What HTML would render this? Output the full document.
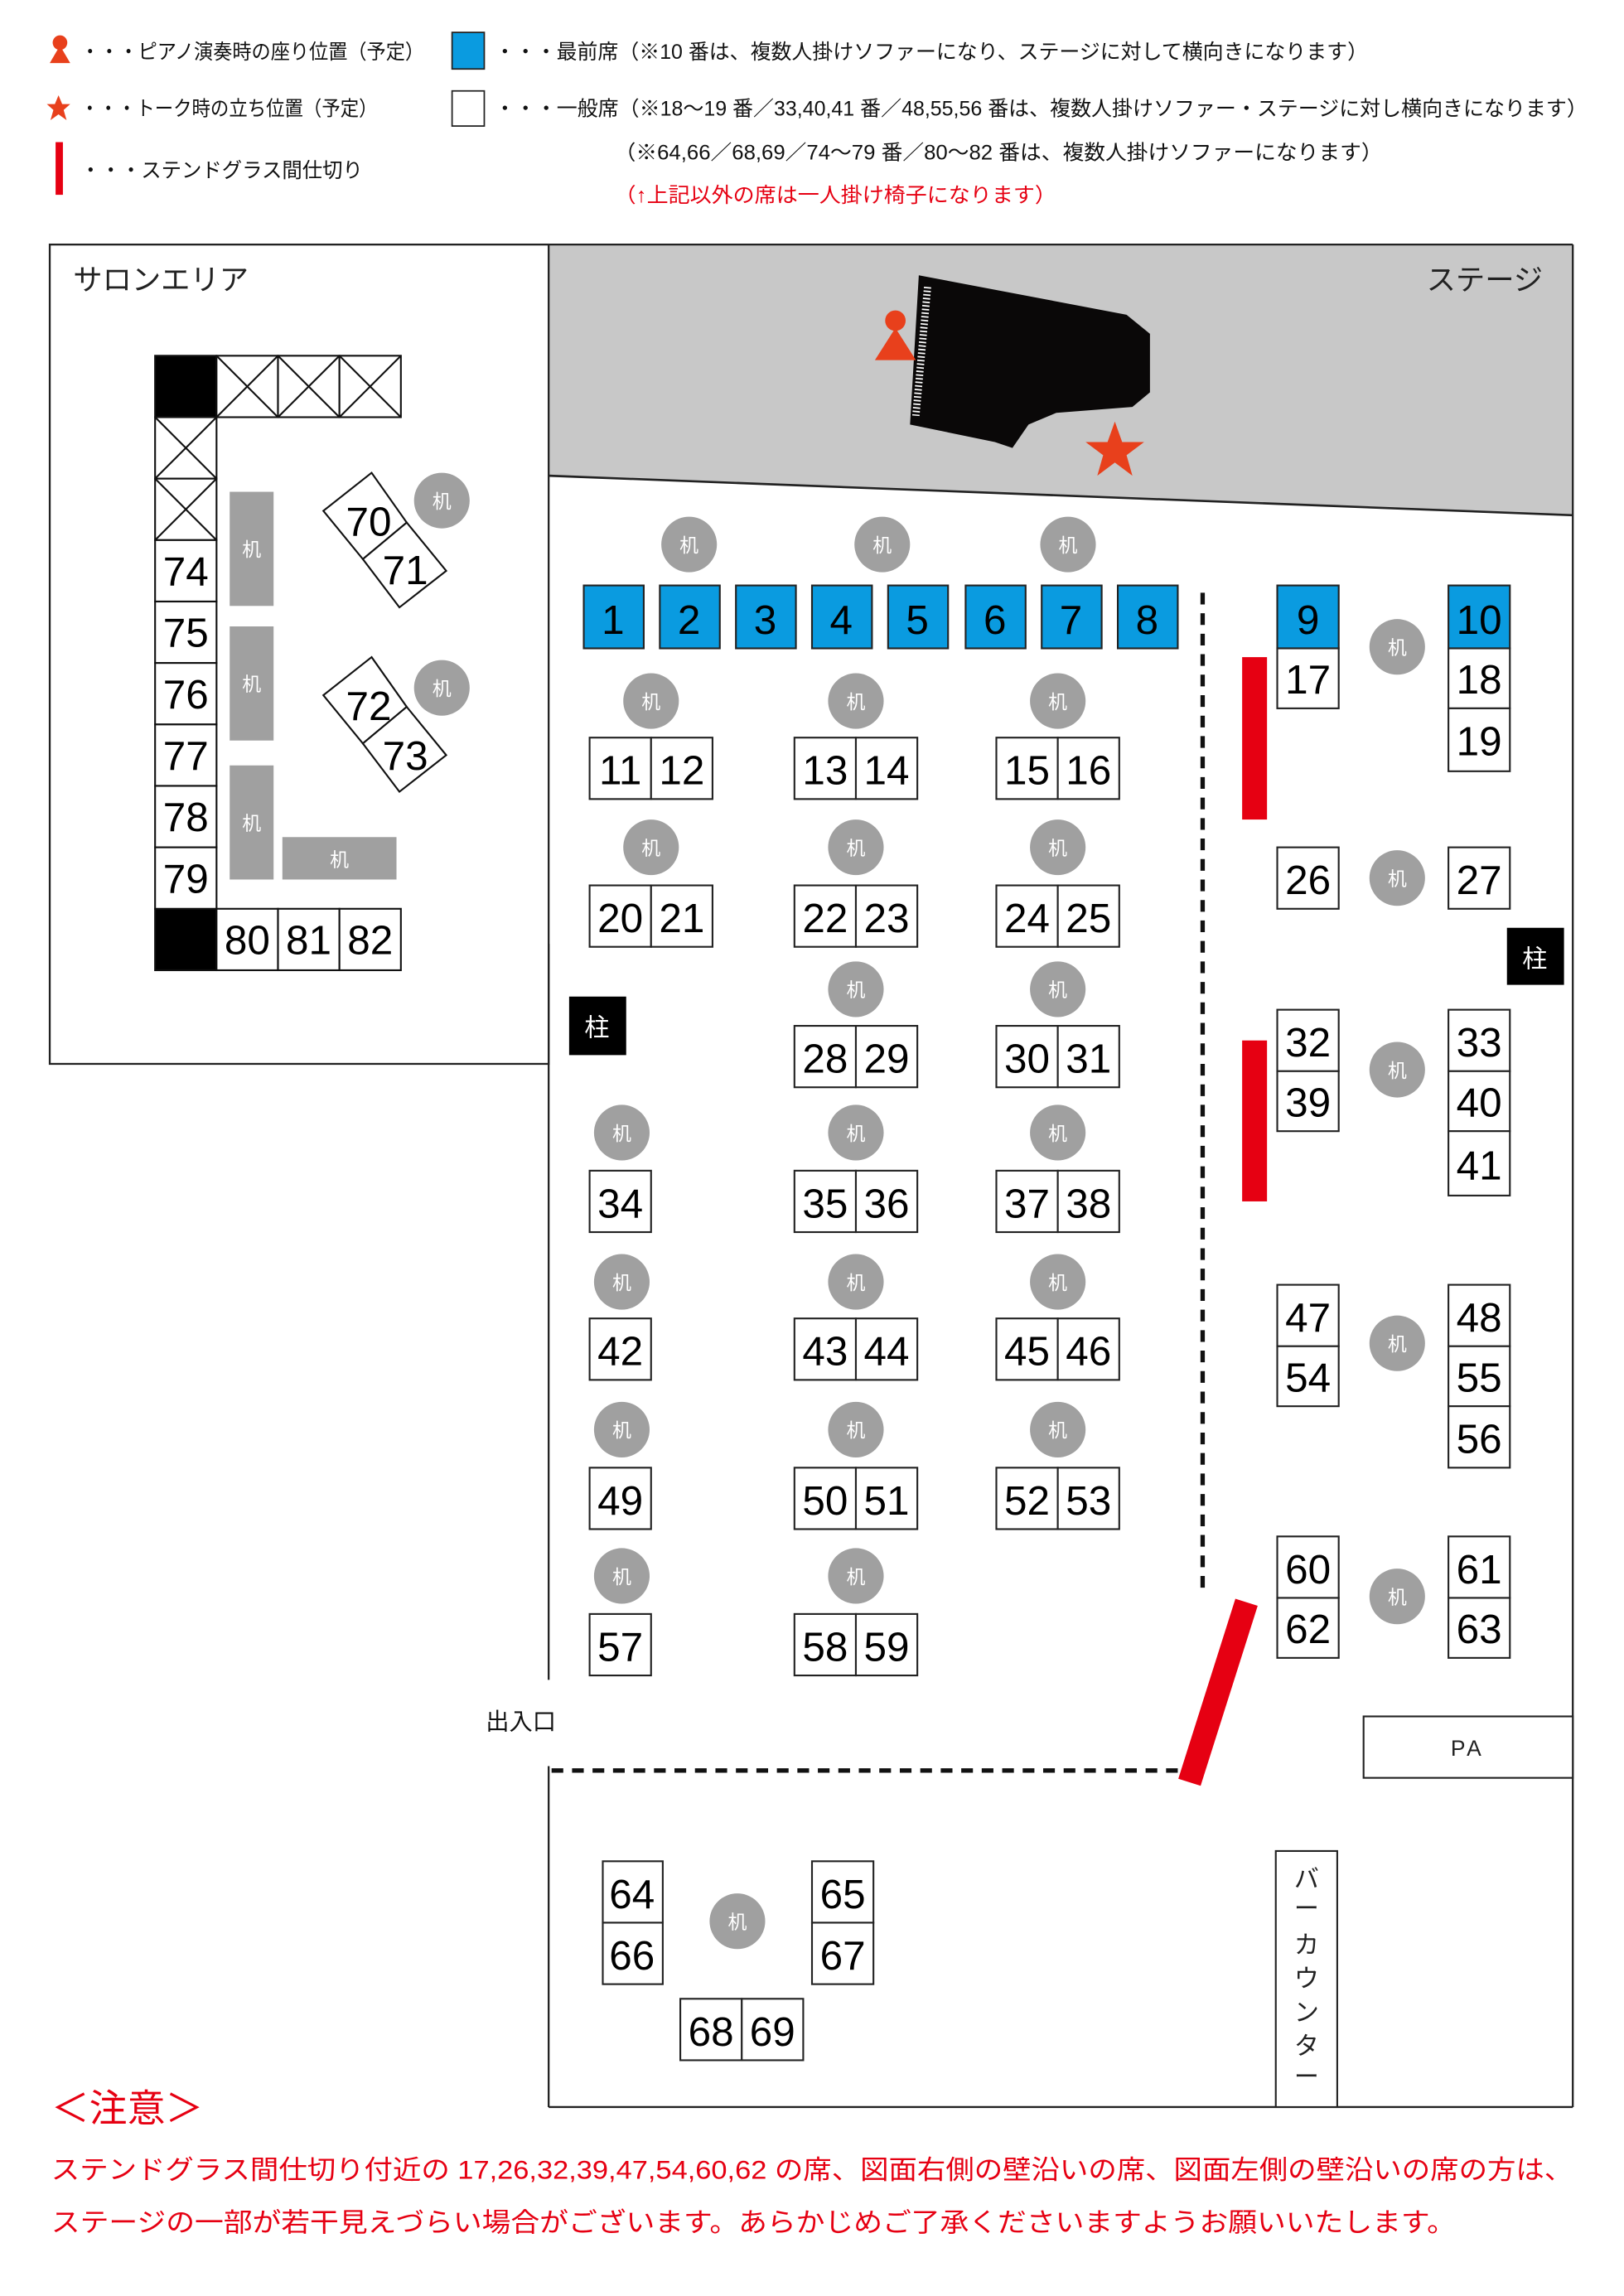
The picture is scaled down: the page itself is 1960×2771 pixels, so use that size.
<!DOCTYPE html>
<html><head><meta charset="utf-8"><style>
html,body{margin:0;padding:0;background:#fff;}
svg{display:block;}
text{font-family:"Liberation Sans","Noto Sans CJK JP",sans-serif;}
.n{font-size:28px;text-anchor:middle;fill:#000;}
.d{font-size:13px;text-anchor:middle;fill:#fff;}
.lg{font-size:14px;fill:#111;}
</style></head><body>
<svg width="1960" height="2771" viewBox="0 0 1110 1569" xmlns="http://www.w3.org/2000/svg">
<rect width="1110" height="1569" fill="#fff"/>
<!-- legend -->
<circle cx="41" cy="29" r="5" fill="#e8401c"/><polygon points="34,43 48,43 41,31" fill="#e8401c"/>
<text class="lg" x="55" y="40" textLength="235" lengthAdjust="spacingAndGlyphs">・・・ピアノ演奏時の座り位置（予定）</text>
<rect x="309" y="22" width="22" height="25" fill="#0a9be0" stroke="#222" stroke-width="1"/>
<text class="lg" x="338" y="40" textLength="597" lengthAdjust="spacingAndGlyphs">・・・最前席（※10 番は、複数人掛けソファーになり、ステージに対して横向きになります）</text>
<polygon points="40,65 42.5,71 48,71 43.5,75 45.5,82 40,78 34.5,82 36.5,75 32,71 37.5,71" fill="#e8401c"/>
<text class="lg" x="55" y="79" textLength="203" lengthAdjust="spacingAndGlyphs">・・・トーク時の立ち位置（予定）</text>
<rect x="309" y="62" width="22" height="24" fill="#fff" stroke="#222" stroke-width="1"/>
<text class="lg" x="338" y="79" textLength="747" lengthAdjust="spacingAndGlyphs">・・・一般席（※18〜19 番／33,40,41 番／48,55,56 番は、複数人掛けソファー・ステージに対し横向きになります）</text>
<rect x="38" y="97" width="5" height="36" fill="#e60012"/>
<text class="lg" x="55" y="121" textLength="193" lengthAdjust="spacingAndGlyphs">・・・ステンドグラス間仕切り</text>
<text class="lg" x="420" y="109" textLength="525" lengthAdjust="spacingAndGlyphs">（※64,66／68,69／74〜79 番／80〜82 番は、複数人掛けソファーになります）</text>
<text class="lg" x="420" y="138" textLength="302" lengthAdjust="spacingAndGlyphs" fill="#e60012" style="fill:#e60012">（↑上記以外の席は一人掛け椅子になります）</text>

<!-- structure -->
<polygon points="375,167 1075,167 1075,352 375,325" fill="#c8c8c8"/>
<line x1="375" y1="325" x2="1075" y2="352" stroke="#222" stroke-width="1.5"/>
<rect x="34" y="167" width="341" height="560" fill="none" stroke="#222" stroke-width="1.3"/>
<line x1="375" y1="167" x2="1075" y2="167" stroke="#222" stroke-width="1.3"/>
<line x1="1075" y1="167" x2="1075" y2="1440" stroke="#222" stroke-width="1.3"/>
<line x1="375" y1="1440" x2="1075" y2="1440" stroke="#222" stroke-width="1.3"/>
<line x1="375" y1="645" x2="375" y2="1148" stroke="#222" stroke-width="1.3"/>
<line x1="375" y1="1207" x2="375" y2="1440" stroke="#222" stroke-width="1.3"/>
<text x="332" y="1182" font-size="16" fill="#111">出入口</text>
<line x1="377" y1="1210" x2="805" y2="1210" stroke="#111" stroke-width="3" stroke-dasharray="8,6"/>
<line x1="822" y1="405" x2="822" y2="1090" stroke="#111" stroke-width="3" stroke-dasharray="8,6"/>
<text x="50" y="198" font-size="20" fill="#222">サロンエリア</text>
<text x="975" y="198" font-size="20" fill="#222">ステージ</text>

<!-- piano -->
<polygon points="628,188 770,215 786,228 786,268 774,278 722,282 703,290 692,306 680,302 622,290" fill="#0a0808"/>
<line x1="634" y1="196" x2="626" y2="284" stroke="#fff" stroke-width="5" stroke-dasharray="1,1.5"/>
<circle cx="612" cy="219" r="7" fill="#e8401c"/><polygon points="598,246 626,246 612,224" fill="#e8401c"/>
<polygon points="762,288 767,302 782,302 770,311 774,325 762,316 750,325 754,311 742,302 757,302" fill="#e8401c"/>

<!-- salon seats -->
<g stroke="#111" stroke-width="1.2">
<rect x="106" y="243" width="42" height="42" fill="#000"/>
<rect x="106" y="621" width="42" height="42" fill="#000"/>
<g fill="#fff">
<rect x="148" y="243" width="42" height="42"/><rect x="190" y="243" width="42" height="42"/><rect x="232" y="243" width="42" height="42"/>
<rect x="106" y="285" width="42" height="42"/><rect x="106" y="327" width="42" height="42"/>
<rect x="106" y="369" width="42" height="42"/><rect x="106" y="411" width="42" height="42"/><rect x="106" y="453" width="42" height="42"/>
<rect x="106" y="495" width="42" height="42"/><rect x="106" y="537" width="42" height="42"/><rect x="106" y="579" width="42" height="42"/>
<rect x="148" y="621" width="42" height="42"/><rect x="190" y="621" width="42" height="42"/><rect x="232" y="621" width="42" height="42"/>
</g>
<path d="M148,243 L190,285 M190,243 L148,285 M190,243 L232,285 M232,243 L190,285 M232,243 L274,285 M274,243 L232,285 M106,285 L148,327 M148,285 L106,327 M106,327 L148,369 M148,327 L106,369" fill="none"/>
<g fill="#fff">
<polygon points="254,323 221,349 248,382 278,357"/><polygon points="278,357 305,390 273,415 248,382"/>
<polygon points="254,449 221,475 248,508 278,483"/><polygon points="278,483 305,516 273,541 248,508"/>
</g>
</g>
<g class="n">
<text class="n" x="127" y="400">74</text><text class="n" x="127" y="442">75</text><text class="n" x="127" y="484">76</text>
<text class="n" x="127" y="526">77</text><text class="n" x="127" y="568">78</text><text class="n" x="127" y="610">79</text>
<text class="n" x="169" y="652">80</text><text class="n" x="211" y="652">81</text><text class="n" x="253" y="652">82</text>
<text class="n" x="252" y="366">70</text><text class="n" x="277" y="399">71</text>
<text class="n" x="252" y="492">72</text><text class="n" x="277" y="526">73</text>
</g>
<g fill="#a0a0a0">
<rect x="157" y="336" width="30" height="78"/><rect x="157" y="428" width="30" height="78"/><rect x="157" y="523" width="30" height="78"/>
<rect x="193" y="572" width="78" height="29"/>
</g>
<text class="d" x="172" y="380">机</text><text class="d" x="172" y="472">机</text><text class="d" x="172" y="567">机</text><text class="d" x="232" y="592">机</text>

<!-- desks -->
<g fill="#a0a0a0">
<circle cx="302" cy="342" r="19"/><circle cx="302" cy="470" r="19"/>
<circle cx="471" cy="372" r="19"/><circle cx="603" cy="372" r="19"/><circle cx="730" cy="372" r="19"/>
<circle cx="445" cy="479" r="19"/><circle cx="585" cy="479" r="19"/><circle cx="723" cy="479" r="19"/>
<circle cx="445" cy="579" r="19"/><circle cx="585" cy="579" r="19"/><circle cx="723" cy="579" r="19"/>
<circle cx="585" cy="676" r="19"/><circle cx="723" cy="676" r="19"/>
<circle cx="425" cy="774" r="19"/><circle cx="585" cy="774" r="19"/><circle cx="723" cy="774" r="19"/>
<circle cx="425" cy="876" r="19"/><circle cx="585" cy="876" r="19"/><circle cx="723" cy="876" r="19"/>
<circle cx="425" cy="977" r="19"/><circle cx="585" cy="977" r="19"/><circle cx="723" cy="977" r="19"/>
<circle cx="425" cy="1077" r="19"/><circle cx="585" cy="1077" r="19"/>
<circle cx="955" cy="442" r="19"/><circle cx="955" cy="600" r="19"/><circle cx="955" cy="731" r="19"/>
<circle cx="955" cy="918" r="19"/><circle cx="955" cy="1091" r="19"/><circle cx="504" cy="1313" r="19"/>
</g>
<g class="d">
<text class="d" x="302" y="347">机</text><text class="d" x="302" y="475">机</text>
<text class="d" x="471" y="377">机</text><text class="d" x="603" y="377">机</text><text class="d" x="730" y="377">机</text>
<text class="d" x="445" y="484">机</text><text class="d" x="585" y="484">机</text><text class="d" x="723" y="484">机</text>
<text class="d" x="445" y="584">机</text><text class="d" x="585" y="584">机</text><text class="d" x="723" y="584">机</text>
<text class="d" x="585" y="681">机</text><text class="d" x="723" y="681">机</text>
<text class="d" x="425" y="779">机</text><text class="d" x="585" y="779">机</text><text class="d" x="723" y="779">机</text>
<text class="d" x="425" y="881">机</text><text class="d" x="585" y="881">机</text><text class="d" x="723" y="881">机</text>
<text class="d" x="425" y="982">机</text><text class="d" x="585" y="982">机</text><text class="d" x="723" y="982">机</text>
<text class="d" x="425" y="1082">机</text><text class="d" x="585" y="1082">机</text>
<text class="d" x="955" y="447">机</text><text class="d" x="955" y="605">机</text><text class="d" x="955" y="736">机</text>
<text class="d" x="955" y="923">机</text><text class="d" x="955" y="1096">机</text><text class="d" x="504" y="1318">机</text>
</g>

<!-- front row -->
<g fill="#0a9be0" stroke="#222" stroke-width="1.2">
<rect x="399" y="400" width="41" height="43"/><rect x="451" y="400" width="41" height="43"/><rect x="503" y="400" width="41" height="43"/>
<rect x="555" y="400" width="41" height="43"/><rect x="607" y="400" width="41" height="43"/><rect x="660" y="400" width="41" height="43"/>
<rect x="712" y="400" width="41" height="43"/><rect x="764" y="400" width="41" height="43"/>
<rect x="873" y="400" width="42" height="43"/><rect x="990" y="400" width="42" height="43"/>
</g>
<text class="n" x="419" y="433">1</text><text class="n" x="471" y="433">2</text><text class="n" x="523" y="433">3</text>
<text class="n" x="575" y="433">4</text><text class="n" x="627" y="433">5</text><text class="n" x="680" y="433">6</text>
<text class="n" x="732" y="433">7</text><text class="n" x="784" y="433">8</text>
<text class="n" x="894" y="433">9</text><text class="n" x="1011" y="433">10</text>

<!-- white seats -->
<g fill="#fff" stroke="#222" stroke-width="1.2">
<rect x="403" y="504" width="42" height="42"/><rect x="445" y="504" width="42" height="42"/>
<rect x="543" y="504" width="42" height="42"/><rect x="585" y="504" width="42" height="42"/>
<rect x="681" y="504" width="42" height="42"/><rect x="723" y="504" width="42" height="42"/>
<rect x="403" y="605" width="42" height="42"/><rect x="445" y="605" width="42" height="42"/>
<rect x="543" y="605" width="42" height="42"/><rect x="585" y="605" width="42" height="42"/>
<rect x="681" y="605" width="42" height="42"/><rect x="723" y="605" width="42" height="42"/>
<rect x="543" y="701" width="42" height="42"/><rect x="585" y="701" width="42" height="42"/>
<rect x="681" y="701" width="42" height="42"/><rect x="723" y="701" width="42" height="42"/>
<rect x="403" y="800" width="42" height="42"/>
<rect x="543" y="800" width="42" height="42"/><rect x="585" y="800" width="42" height="42"/>
<rect x="681" y="800" width="42" height="42"/><rect x="723" y="800" width="42" height="42"/>
<rect x="403" y="901" width="42" height="42"/>
<rect x="543" y="901" width="42" height="42"/><rect x="585" y="901" width="42" height="42"/>
<rect x="681" y="901" width="42" height="42"/><rect x="723" y="901" width="42" height="42"/>
<rect x="403" y="1003" width="42" height="42"/>
<rect x="543" y="1003" width="42" height="42"/><rect x="585" y="1003" width="42" height="42"/>
<rect x="681" y="1003" width="42" height="42"/><rect x="723" y="1003" width="42" height="42"/>
<rect x="403" y="1103" width="42" height="42"/>
<rect x="543" y="1103" width="42" height="42"/><rect x="585" y="1103" width="42" height="42"/>
<rect x="873" y="443" width="42" height="41"/>
<rect x="990" y="443" width="42" height="41"/><rect x="990" y="484" width="42" height="43"/>
<rect x="873" y="579" width="42" height="42"/><rect x="990" y="579" width="42" height="42"/>
<rect x="873" y="690" width="42" height="42"/><rect x="873" y="732" width="42" height="41"/>
<rect x="990" y="690" width="42" height="42"/><rect x="990" y="732" width="42" height="41"/><rect x="990" y="773" width="42" height="44"/>
<rect x="873" y="878" width="42" height="42"/><rect x="873" y="920" width="42" height="41"/>
<rect x="990" y="878" width="42" height="42"/><rect x="990" y="920" width="42" height="41"/><rect x="990" y="961" width="42" height="42"/>
<rect x="873" y="1050" width="42" height="42"/><rect x="873" y="1092" width="42" height="41"/>
<rect x="990" y="1050" width="42" height="42"/><rect x="990" y="1092" width="42" height="41"/>
<rect x="412" y="1272" width="41" height="42"/><rect x="412" y="1314" width="41" height="42"/>
<rect x="555" y="1272" width="42" height="42"/><rect x="555" y="1314" width="42" height="42"/>
<rect x="465" y="1366" width="42" height="42"/><rect x="507" y="1366" width="42" height="42"/>
<rect x="932" y="1173" width="143" height="42"/>
<rect x="872" y="1265" width="42" height="175"/>
</g>
<g>
<text class="n" x="424" y="536">11</text><text class="n" x="466" y="536">12</text>
<text class="n" x="564" y="536">13</text><text class="n" x="606" y="536">14</text>
<text class="n" x="702" y="536">15</text><text class="n" x="744" y="536">16</text>
<text class="n" x="424" y="637">20</text><text class="n" x="466" y="637">21</text>
<text class="n" x="564" y="637">22</text><text class="n" x="606" y="637">23</text>
<text class="n" x="702" y="637">24</text><text class="n" x="744" y="637">25</text>
<text class="n" x="564" y="733">28</text><text class="n" x="606" y="733">29</text>
<text class="n" x="702" y="733">30</text><text class="n" x="744" y="733">31</text>
<text class="n" x="424" y="832">34</text>
<text class="n" x="564" y="832">35</text><text class="n" x="606" y="832">36</text>
<text class="n" x="702" y="832">37</text><text class="n" x="744" y="832">38</text>
<text class="n" x="424" y="933">42</text>
<text class="n" x="564" y="933">43</text><text class="n" x="606" y="933">44</text>
<text class="n" x="702" y="933">45</text><text class="n" x="744" y="933">46</text>
<text class="n" x="424" y="1035">49</text>
<text class="n" x="564" y="1035">50</text><text class="n" x="606" y="1035">51</text>
<text class="n" x="702" y="1035">52</text><text class="n" x="744" y="1035">53</text>
<text class="n" x="424" y="1135">57</text>
<text class="n" x="564" y="1135">58</text><text class="n" x="606" y="1135">59</text>
<text class="n" x="894" y="474">17</text><text class="n" x="1011" y="474">18</text><text class="n" x="1011" y="516">19</text>
<text class="n" x="894" y="611">26</text><text class="n" x="1011" y="611">27</text>
<text class="n" x="894" y="722">32</text><text class="n" x="894" y="763">39</text>
<text class="n" x="1011" y="722">33</text><text class="n" x="1011" y="763">40</text><text class="n" x="1011" y="806">41</text>
<text class="n" x="894" y="910">47</text><text class="n" x="894" y="951">54</text>
<text class="n" x="1011" y="910">48</text><text class="n" x="1011" y="951">55</text><text class="n" x="1011" y="993">56</text>
<text class="n" x="894" y="1082">60</text><text class="n" x="894" y="1123">62</text>
<text class="n" x="1011" y="1082">61</text><text class="n" x="1011" y="1123">63</text>
<text class="n" x="432" y="1304">64</text><text class="n" x="432" y="1346">66</text>
<text class="n" x="576" y="1304">65</text><text class="n" x="576" y="1346">67</text>
<text class="n" x="486" y="1398">68</text><text class="n" x="528" y="1398">69</text>
</g>
<text x="1003" y="1200" font-size="15" text-anchor="middle" fill="#222" letter-spacing="2">PA</text>
<g font-size="17" text-anchor="middle" fill="#222">
<text x="893" y="1290">バ</text><text x="893" y="1310">ー</text><text x="893" y="1335">カ</text><text x="893" y="1358">ウ</text><text x="893" y="1381">ン</text><text x="893" y="1404">タ</text><text x="893" y="1425">ー</text>
</g>

<!-- pillars -->
<rect x="389" y="681" width="39" height="40" fill="#000"/><text x="408" y="708" font-size="17" text-anchor="middle" fill="#fff">柱</text>
<rect x="1030" y="634" width="39" height="39" fill="#000"/><text x="1049" y="661" font-size="17" text-anchor="middle" fill="#fff">柱</text>

<!-- stained glass -->
<rect x="849" y="449" width="17" height="111" fill="#e60012"/>
<rect x="849" y="711" width="17" height="110" fill="#e60012"/>
<line x1="852" y1="1095" x2="813" y2="1218" stroke="#e60012" stroke-width="16"/>

<!-- notice -->
<text x="35" y="1450" font-size="26" fill="#e60012">＜注意＞</text>
<text x="35" y="1489" font-size="18" fill="#e60012" textLength="1040" lengthAdjust="spacingAndGlyphs">ステンドグラス間仕切り付近の 17,26,32,39,47,54,60,62 の席、図面右側の壁沿いの席、図面左側の壁沿いの席の方は、</text>
<text x="35" y="1525" font-size="18" fill="#e60012" textLength="960" lengthAdjust="spacingAndGlyphs">ステージの一部が若干見えづらい場合がございます。あらかじめご了承くださいますようお願いいたします。</text>
</svg>
</body></html>
